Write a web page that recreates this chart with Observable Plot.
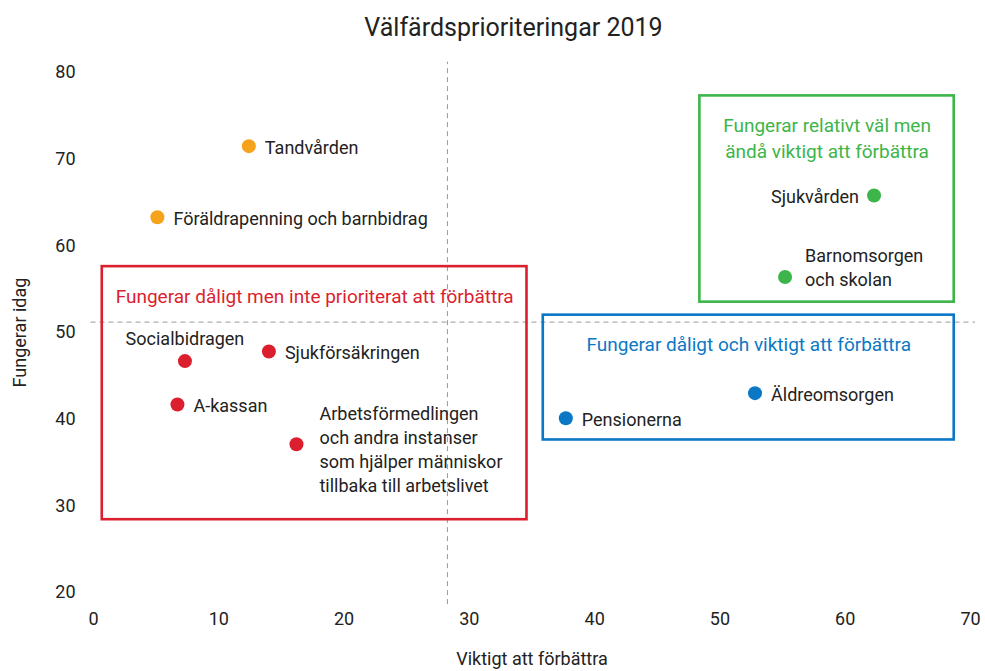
<!DOCTYPE html>
<html><head><meta charset="utf-8">
<script src="https://cdn.jsdelivr.net/npm/d3@7"></script>
<script src="https://cdn.jsdelivr.net/npm/@observablehq/plot@0.6"></script>
<style>
body{margin:0;background:#fff;font-family:"Liberation Sans Narrow","Roboto",sans-serif;}
#title{height:50px;line-height:56px;text-align:center;font-size:25px;color:#222;padding-left:42px;box-sizing:border-box;width:985px;}
</style></head><body>
<div id="title">Välfärdsprioriteringar 2019</div>
<div id="chart"></div>
<script>
// ---- data ----
const names = ["Tandvården","Föräldrapenning och barnbidrag","Sjukvården","Barnomsorgen\noch skolan","Socialbidragen","Sjukförsäkringen","A-kassan","Arbetsförmedlingen\noch andra instanser\nsom hjälper människor\ntillbaka till arbetslivet","Pensionerna","Äldreomsorgen"];
const important = [12.4, 5.1, 62.3, 55.2, 7.3, 14.0, 6.7, 16.2, 37.7, 52.8];
const functioning = [71.5, 63.3, 65.8, 56.4, 46.7, 47.8, 41.7, 37.1, 40.1, 43.0];
const groups = ["övrigt","övrigt","väl","väl","dåligt","dåligt","dåligt","dåligt","viktigt","viktigt"];
const groupDomain = ["övrigt","väl","dåligt","viktigt"];
const groupColors = ["#f6a31c","#3db54a","#db1f2e","#0b78c5"];

const regionLabels = ["Fungerar dåligt men inte prioriterat att förbättra","Fungerar dåligt och viktigt att förbättra","Fungerar relativt väl men\nändå viktigt att förbättra"];
const regionGroups = ["dåligt","viktigt","väl"];
const regionX1 = [0.7, 35.9, 48.4];
const regionX2 = [34.6, 68.7, 68.7];
const regionY1 = [28.4, 37.6, 53.5];
const regionY2 = [57.6, 52.0, 77.3];

const xThreshold = 28.25;
const yThreshold = 51.2;
const xTicks = [0,10,20,30,40,50,60,70];
const yTicks = [20,30,40,50,60,70,80];

// ---- tables ----
const points = names.map((n,i)=>({name:n, x:important[i], y:functioning[i], group:groups[i]}));
const regions = regionLabels.map((l,i)=>({label:l, group:regionGroups[i], x1:regionX1[i], x2:regionX2[i], y1:regionY1[i], y2:regionY2[i]}));

// label placement (styling)
const place = {
  "Socialbidragen": {textAnchor:"middle", dx:0, dy:-24, lineAnchor:"middle"},
  "Sjukvården": {textAnchor:"end", dx:-15, dy:0, lineAnchor:"middle"},
  "Barnomsorgen\noch skolan": {textAnchor:"start", dx:20, dy:-11, lineAnchor:"middle"},
  "Arbetsförmedlingen\noch andra instanser\nsom hjälper människor\ntillbaka till arbetslivet": {textAnchor:"start", dx:23, dy:4, lineAnchor:"middle"}
};
const defPlace = {textAnchor:"start", dx:16, dy:0, lineAnchor:"middle"};
const labelMarks = points.map(p => {
  const o = place[p.name] || defPlace;
  return Plot.text([p], {x:"x", y:"y", text:"name", fill:"#222", fontSize:18, lineHeight:1.32, ...o});
});

const plot = Plot.plot({
  width: 985,
  height: 621,
  marginTop: 22,
  marginBottom: 79,
  marginLeft: 93,
  marginRight: 15,
  style: {fontFamily: '"Liberation Sans Narrow","Roboto",sans-serif', fontSize: "18px", color: "#222", background: "#fff"},
  x: {domain:[0,70], ticks: xTicks},
  y: {domain:[20,80], ticks: yTicks},
  color: {domain: groupDomain, range: groupColors},
  marks: [
    Plot.axisX({ticks: xTicks, tickSize:0, tickPadding:20, fontSize:18, label:"Viktigt att förbättra", labelAnchor:"center", labelOffset:72, labelArrow:"none"}),
    Plot.axisY({ticks: yTicks, tickSize:0, tickPadding:18, fontSize:18, label:"Fungerar idag", labelAnchor:"center", labelOffset:80, labelArrow:"none"}),
    Plot.ruleX([xThreshold], {y1:18.6, y2:81.2, stroke:"#999", strokeDasharray:"5,4", strokeWidth:1}),
    Plot.ruleY([yThreshold], {x1:-0.2, x2:70.4, stroke:"#999", strokeDasharray:"5,4", strokeWidth:1}),
    Plot.rect(regions, {x1:"x1", x2:"x2", y1:"y1", y2:"y2", fill:"none", stroke:"group", strokeWidth:2.6}),
    Plot.text(regions, {x:d=>(d.x1+d.x2)/2, y:"y2", text:"label", fill:"group", fontSize:19, lineAnchor:"top", dy:18, lineHeight:1.35}),
    Plot.dot(points, {x:"x", y:"y", fill:"group", r:7}),
    ...labelMarks
  ]
});
document.getElementById("chart").appendChild(plot);
</script>
</body></html>
